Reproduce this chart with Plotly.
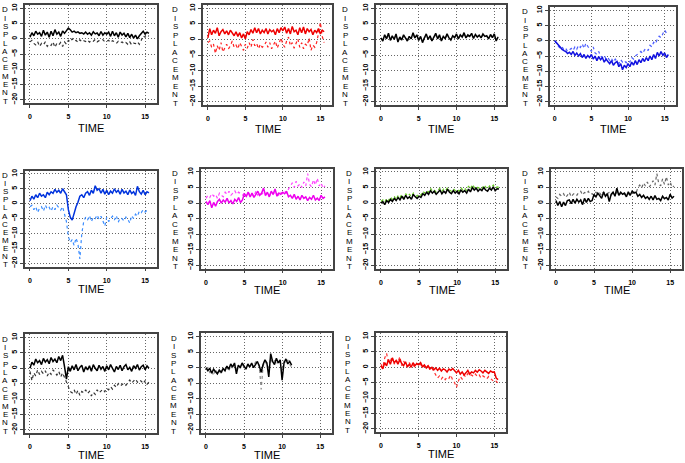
import plotly.graph_objects as go

TIME = [0.0, 0.25, 0.5, 0.75, 1.0, 1.25, 1.5, 1.75, 2.0, 2.25,
        2.5, 2.75, 3.0, 3.25, 3.5, 3.75, 4.0, 4.25, 4.5, 4.75,
        5.0, 5.25, 5.5, 5.75, 6.0, 6.25, 6.5, 6.75, 7.0, 7.25,
        7.5, 7.75, 8.0, 8.25, 8.5, 8.75, 9.0, 9.25, 9.5, 9.75,
        10.0, 10.25, 10.5, 10.75, 11.0, 11.25, 11.5, 11.75, 12.0, 12.25,
        12.5, 12.75, 13.0, 13.25, 13.5, 13.75, 14.0, 14.25, 14.5, 14.75,
        15.0, 15.25, 15.5]

X_TICKS = [0, 5, 10, 15]
Y_TICKS = [-20, -15, -10, -5, 0, 5, 10]

P1_SOLID = [0.5, 2.0, 1.0, 2.5, 1.5, 2.0, 0.8, 2.8, 1.2, 2.2,
            0.5, 2.5, 1.0, 3.0, 1.5, 2.2, 0.8, 2.6, 1.8, 2.8,
            3.5, 3.0, 2.2, 2.5, 2.0, 2.3, 1.8, 2.0, 1.6, 2.2,
            1.5, 2.0, 1.2, 2.3, 1.6, 1.9, 1.0, 2.4, 1.2, 2.0,
            1.5, 2.2, 0.8, 2.5, 1.0, 2.0, 0.5, 2.2, 1.2, 1.8,
            0.6, 1.8, 0.4, 1.5, 0.2, 1.2, 0.0, 1.0, 1.8, 2.5,
            1.5, 2.2, 1.8]
P1_DOTTED = [-1.0, -0.5, -1.5, -2.0, -1.0, -2.5, -1.5, -2.0, -1.0, -2.5,
             -1.8, -2.2, -1.0, -2.8, -1.5, -2.0, -1.2, -2.5, -1.0, -1.8,
             -0.5, -1.0, 0.0, -0.8, -0.5, -1.2, -0.3, -1.0, -0.6, -0.9,
             -0.4, -1.1, -0.5, -0.8, -0.2, -1.0, -0.6, -0.7, -0.3, -1.0,
             -0.8, -0.5, -1.2, -0.6, -1.0, -1.5, -0.8, -1.3, -1.0, -1.6,
             -1.2, -1.8, -1.0, -2.0, -1.4, -1.6, -1.0, -1.8, -0.5, 1.0,
             0.5, 1.2, 0.8]

P2_SOLID = [0.5, 3.5, 1.5, 3.0, 2.0, 3.8, 1.2, 2.5, 3.2, 1.8,
            2.8, 1.5, 3.0, 2.0, 1.2, 2.5, 1.0, 2.2, 0.5, 1.8,
            0.2, 2.5, 1.5, 3.2, 2.0, 3.8, 2.2, 3.5, 1.8, 3.0,
            2.2, 3.5, 1.8, 3.2, 2.5, 3.0, 1.5, 3.5, 2.2, 3.8,
            2.8, 4.0, 2.0, 3.5, 1.8, 4.2, 2.5, 3.0, 1.5, 3.8,
            2.2, 4.0, 1.8, 3.5, 2.5, 3.2, 1.5, 3.0, 2.2, 3.5,
            1.8, 3.0, 2.5]
P2_DOTTED = [-1.0, -0.5, -2.5, -1.5, -4.5, -2.0, -3.5, -1.0, -4.0, -2.5,
             -1.5, -3.0, -2.0, -0.5, -2.5, -1.8, -3.0, -1.0, -2.2, -3.5,
             -1.5, -2.8, -1.0, -2.5, 0.0, -2.0, -1.2, -3.0, -1.5, -2.5,
             -2.0, -0.8, -2.5, -1.0, -3.0, -1.5, -0.5, -2.8, -1.2, 0.5,
             -1.5, -2.5, -0.5, 0.8, -2.0, -1.0, -2.8, -1.5, 0.2, -2.5,
             -1.0, -3.0, -1.5, -2.0, 0.5, -3.5, -1.8, -2.5, -1.0, 2.0,
             5.5, 1.0, -1.0]

P3_SOLID = [0.5, -0.5, 1.5, 0.2, 2.0, -0.3, 1.2, 0.0, 1.8, -0.8,
            0.8, -0.2, 1.5, 0.3, -0.5, 1.0, 0.2, 2.2, 0.5, 1.5,
            -0.3, 1.0, -1.0, 0.5, 1.8, 0.0, 1.2, -0.5, 0.8, 2.0,
            0.2, 1.5, -0.5, 1.0, 0.3, 1.8, 0.5, -0.2, 1.2, 0.6,
            1.8, 0.2, 1.5, 0.8, 2.2, 0.5, 1.5, 1.0, 2.0, 0.3,
            1.6, 0.8, 1.4, 0.5, 1.8, 1.0, 1.2, 0.2, 1.6, 0.6,
            1.8, -0.5, 0.8]
P3_DOTTED = [0.2, 0.0, 1.0, 0.5, 1.5, 0.0, 0.8, 0.3, 1.2, -0.3,
             0.5, 0.2, 1.0, 0.6, 0.0, 0.8, 0.4, 1.5, 0.6, 1.0,
             0.0, 0.7, -0.5, 0.6, 1.2, 0.2, 0.9, -0.2, 0.6, 1.4,
             0.4, 1.0, 0.0, 0.8, 0.5, 1.2, 0.6, 0.1, 0.9, 0.7,
             1.2, 0.5, 1.1, 0.9, 1.5, 0.7, 1.1, 0.9, 1.4, 0.6,
             1.2, 0.9, 1.1, 0.7, 1.3, 1.0, 1.0, 0.5, 1.2, 0.8,
             1.3, 0.0, 0.9]

P4_SOLID = [0.0, -0.8, -1.5, -2.0, -2.8, -3.2, -3.5, -4.2, -3.8, -4.5,
            -3.5, -4.8, -4.0, -5.0, -4.2, -5.5, -4.5, -5.8, -4.8, -5.5,
            -4.5, -6.0, -5.0, -6.5, -5.2, -6.2, -5.5, -7.0, -6.0, -6.8,
            -7.5, -6.5, -8.0, -7.2, -6.8, -8.5, -7.5, -9.5, -8.0, -8.8,
            -7.5, -8.5, -7.0, -8.0, -6.5, -7.8, -6.2, -7.2, -5.8, -6.8,
            -5.5, -6.5, -5.0, -6.2, -4.5, -5.8, -3.8, -5.0, -3.5, -4.8,
            -4.0, -5.5, -4.5]
P4_DOTTED = [0.0, -1.0, -1.8, -2.5, -2.0, -3.0, -2.5, -3.5, -3.0, -2.5,
             -3.2, -2.0, -2.8, -1.5, -2.2, -1.0, -2.5, -0.8, -1.8, -2.5,
             -3.5, -2.0, -4.0, -4.5, -3.5, -5.0, -5.5, -4.8, -6.0, -5.5,
             -6.5, -5.8, -7.0, -6.0, -6.8, -7.5, -6.2, -7.0, -6.5, -7.2,
             -6.5, -7.0, -5.5, -6.0, -5.0, -4.5, -4.0, -3.5, -4.2, -3.0,
             -2.5, -3.2, -1.5, -2.0, -0.5, -1.0, 0.5, 1.5, 1.0, 2.5,
             3.5, 2.5, 3.0]

P5_SOLID = [1.0, 2.5, 1.5, 3.0, 2.0, 3.5, 2.5, 3.0, 2.0, 3.8,
            3.0, 4.0, 3.5, 4.8, 3.8, 4.5, 3.5, 5.0, 4.0, 3.0,
            -2.0, -4.5, -5.5, -3.0, -1.0, 0.5, 2.5, 3.0, 2.0, 3.5,
            4.0, 2.8, 4.5, 3.5, 6.0, 4.5, 5.0, 3.5, 4.8, 3.2,
            4.5, 3.0, 4.2, 3.5, 5.0, 3.8, 4.5, 3.2, 4.8, 3.6,
            4.2, 3.0, 4.6, 3.4, 4.0, 2.8, 5.8, 4.0, 3.2, 4.5,
            3.0, 4.0, 3.6]
P5_DOTTED = [-1.0, -0.5, -2.0, -1.0, -3.0, -1.5, -1.0, -2.5, -0.5, -1.8,
             -1.2, -2.5, -1.0, -2.0, -0.5, -1.5, -2.2, -1.0, -3.5, -6.0,
             -11.0, -13.0, -12.0, -14.0, -11.5, -13.5, -18.5, -10.0, -6.0, -4.5,
             -5.5, -4.0, -6.0, -4.5, -5.0, -3.8, -5.2, -4.2, -5.8, -7.5,
             -4.5, -6.0, -5.0, -4.2, -5.5, -4.0, -6.2, -4.8, -5.0, -5.8,
             -4.5, -5.2, -6.5, -4.0, -5.0, -3.5, -4.2, -2.5, -3.0, -2.0,
             -2.8, -2.2, -2.5]

P6_SOLID = [0.5, -0.5, 0.8, -1.5, 0.2, -1.0, 0.5, 1.2, 0.0, 1.0,
            0.3, 1.5, 0.0, 0.8, -0.3, 1.2, 0.5, 1.8, 0.2, 1.0,
            3.0, 2.2, 3.5, 2.0, 3.2, 1.8, 2.8, 3.8, 2.5, 3.2,
            4.8, 2.5, 3.5, 2.0, 3.8, 2.8, 4.5, 2.2, 3.2, 2.8,
            3.5, 3.0, 3.8, 2.0, 2.5, 1.5, 2.8, 1.2, 2.2, 1.0,
            2.5, 1.5, 2.0, 0.8, 1.8, 1.2, 2.5, 1.0, 1.6, 0.8,
            2.5, 1.5, 2.0]
P6_DOTTED = [1.5, 2.5, 1.8, 3.0, 2.2, 2.8, 1.5, 3.2, 2.5, 2.0,
             3.5, 2.8, 3.8, 2.5, 3.2, 4.0, 2.8, 3.5, 3.0, 2.5,
             3.2, 2.0, 3.5, 2.5, 3.0, 2.2, 3.8, 2.5, 3.2, 2.8,
             3.5, 2.5, 3.0, 2.2, 3.2, 2.8, 3.6, 3.0, 2.5, 3.4,
             3.0, 3.8, 3.2, 4.5, 5.5, 6.5, 5.0, 7.0, 5.5, 6.2,
             5.0, 6.8, 5.5, 9.5, 6.0, 5.2, 7.5, 5.8, 8.0, 5.5,
             6.5, 4.8, 5.5]

P7_SOLID = [0.0, 0.5, -0.5, 0.8, 0.2, 1.2, 0.5, 1.5, 0.8, 1.8,
            1.0, 2.2, 1.2, 2.5, 1.5, 2.0, 1.2, 2.8, 2.0, 1.5,
            2.2, 1.8, 3.0, 2.5, 3.5, 2.8, 4.0, 3.2, 3.8, 2.8,
            3.5, 4.2, 3.0, 3.8, 3.2, 4.5, 3.5, 3.0, 4.0, 3.2,
            3.8, 3.0, 4.2, 3.5, 4.0, 3.2, 4.5, 3.6, 5.0, 4.2,
            4.8, 3.8, 4.5, 4.0, 5.0, 4.2, 3.8, 4.8, 4.2, 5.2,
            4.0, 4.6, 4.5]
P7_DOTTED = [0.5, 1.0, 0.2, 1.5, 0.8, 2.0, 1.2, 2.2, 1.0, 2.5,
             1.8, 2.8, 1.5, 3.0, 2.2, 2.8, 2.0, 3.2, 2.5, 2.2,
             3.0, 2.5, 3.8, 3.2, 4.0, 3.5, 4.8, 3.8, 4.2, 3.5,
             4.2, 4.8, 3.8, 4.5, 4.0, 5.0, 4.2, 3.8, 4.6, 4.0,
             4.5, 3.8, 5.0, 4.2, 4.8, 4.0, 5.5, 4.5, 6.0, 5.0,
             5.5, 4.8, 5.2, 4.6, 5.8, 5.0, 4.5, 5.5, 5.0, 5.8,
             4.8, 5.2, 5.0]

P8_SOLID = [0.8, -0.8, 0.5, -1.2, 0.3, -0.8, 0.8, 1.0, -0.2, 1.2,
            0.0, 1.2, 0.3, 1.0, -0.5, 1.5, 0.2, 1.5, 0.5, 0.8,
            2.8, 2.0, 3.2, 2.5, 1.5, 3.5, 2.2, 3.0, 0.5, 2.8,
            3.5, 2.2, 4.8, 2.5, 3.5, 2.8, 3.2, 2.0, 3.6, 2.5,
            3.8, 3.2, 3.5, 2.2, 2.8, 1.8, 2.5, 1.5, 2.0, 1.2,
            2.2, 1.0, 2.4, 1.2, 1.5, 0.8, 2.2, 1.4, 1.8, 1.0,
            2.8, 1.6, 2.2]
P8_DOTTED = [2.0, 1.5, 2.8, 2.2, 3.0, 1.8, 2.5, 3.5, 2.0, 2.8,
             3.2, 2.5, 3.5, 3.8, 2.6, 3.4, 3.0, 3.8, 2.8, 3.0,
             2.5, 3.5, 2.8, 3.2, 2.4, 3.6, 2.8, 3.0, 3.4, 2.6,
             3.2, 2.8, 3.5, 2.5, 3.0, 3.6, 2.8, 3.2, 3.0, 2.6,
             3.4, 3.6, 3.0, 5.0, 5.8, 4.8, 6.5, 5.5, 6.8, 5.2,
             6.0, 7.2, 5.8, 9.5, 6.2, 5.5, 7.8, 6.0, 8.5, 5.8,
             6.8, 5.0, 5.5]

P9_SOLID = [0.0, 2.0, 1.0, 3.0, 1.8, 2.5, 1.2, 3.2, 2.0, 2.8,
            1.5, 3.5, 2.2, 3.0, 1.8, 3.8, 2.5, 4.2, 0.5, -3.5,
            0.5, -1.0, 0.8, -0.5, 1.2, -0.8, 0.3, 1.0, -1.2, 0.5,
            -0.5, 0.8, -1.0, 1.2, 0.0, -0.8, 1.0, -0.3, 0.6, -1.0,
            0.8, -0.5, 1.2, 0.0, -1.2, 0.6, -0.4, 1.0, -0.8, 0.5,
            1.2, -0.5, 0.3, -1.0, 0.8, 0.0, 1.2, -0.6, 0.5, 1.0,
            -0.5, 0.8, 0.0]
P9_DOTTED = [-1.0, -4.0, -1.5, -2.5, -0.5, -2.0, -1.0, -1.8, -0.8, -2.5,
             -1.2, -2.0, -0.5, -1.5, -2.2, -1.0, -2.8, -1.5, -3.0, -5.0,
             -6.5, -7.5, -8.0, -7.0, -8.5, -7.2, -8.8, -7.5, -8.0, -7.0,
             -8.2, -7.5, -9.0, -7.8, -8.5, -7.0, -8.0, -7.4, -6.8, -7.6,
             -6.5, -7.0, -6.0, -6.8, -5.5, -6.2, -5.0, -5.8, -5.2, -4.8,
             -5.5, -4.5, -3.8, -4.8, -4.0, -3.5, -4.5, -3.8, -4.2, -5.0,
             -4.0, -5.2, -4.5]

P10_SOLID = [0.0, -1.0, -0.2, -1.8, -0.5, -1.2, -2.0, -0.8, -1.5, -0.3,
             -1.0, 0.5, -0.5, 1.2, 0.2, 1.5, -2.0, 0.8, 0.0, 1.5,
             0.5, -0.5, 1.2, 0.2, 1.5, 0.0, 1.0, 2.0, 0.5, -1.5,
             1.0, 2.5, 1.5, -3.0, 4.5, 2.0, 1.0, 3.0, 1.5, 2.5,
             -4.0, 1.5, 2.8, 1.2, 2.0, 0.8]
P10_DOTTED = [-0.5, 0.0, -1.5, -0.8, -2.5, -0.5, -1.8, -1.0, -2.2, 0.0,
              -0.8, 0.2, -1.2, 0.8, -0.3, 1.0, -0.5, 0.5, -0.2, 1.0,
              0.2, 0.5, 0.8, 0.3, 1.0, 0.3, 1.8, 1.2, 0.8, -7.0,
              0.5, 2.0, 1.0, 0.0, 3.0, 1.5, 2.2, 1.0, 2.5, 1.8,
              -1.0, 2.0, 1.5, 2.5, 1.0, 0.2]

P11_SOLID = [0.5, -0.5, 1.5, 0.5, 2.5, 1.0, 3.0, 1.5, 2.2, 1.0,
             2.5, 1.2, 0.5, 1.8, 0.2, 1.0, 0.0, 1.5, 0.5, 1.2,
             0.8, 1.5, 0.2, 0.8, -0.2, 0.5, -0.5, 0.0, -0.8, -0.2,
             -1.0, -0.3, -1.2, -0.5, -0.8, -1.5, -0.6, -1.0, -0.4, -1.2,
             -1.8, -1.0, -2.2, -1.5, -2.5, -1.8, -1.0, -2.2, -1.5, -1.8,
             -1.0, -1.6, -0.8, -1.2, -1.8, -1.0, -1.5, -2.0, -1.2, -1.6,
             -1.5, -3.5, -4.0]
P11_DOTTED = [1.0, 0.0, 3.0, 4.5, 1.5, 2.0, 3.5, 1.0, 2.5, 1.5,
              3.5, 0.5, 2.0, 1.0, 0.0, 1.5, 0.5, 0.8, 0.0, 1.2,
              0.5, 1.0, -0.2, 0.5, -0.5, 0.8, -1.0, -0.3, -1.5, -2.5,
              -3.5, -2.8, -3.8, -3.0, -4.0, -3.2, -3.6, -2.5, -4.2, -5.0,
              -6.5, -4.5, -3.0, -3.8, -2.5, -3.2, -2.0, -2.8, -2.5, -3.0,
              -2.2, -3.0, -2.5, -3.5, -2.8, -3.2, -3.8, -3.0, -3.6, -4.2,
              -4.8, -4.5, -5.2]

PANELS = [
    (P1_SOLID, P1_DOTTED, "#000000", "#333333"),
    (P2_SOLID, P2_DOTTED, "#ee0000", "#ff2020"),
    (P3_SOLID, P3_DOTTED, "#000000", "#777777"),
    (P4_SOLID, P4_DOTTED, "#1010e0", "#4a5cff"),
    (P5_SOLID, P5_DOTTED, "#0033dd", "#3a8cff"),
    (P6_SOLID, P6_DOTTED, "#ee00ee", "#ff44ff"),
    (P7_SOLID, P7_DOTTED, "#000000", "#66cc22"),
    (P8_SOLID, P8_DOTTED, "#000000", "#666666"),
    (P9_SOLID, P9_DOTTED, "#000000", "#333333"),
    (P10_SOLID, P10_DOTTED, "#000000", "#888888"),
    (P11_SOLID, P11_DOTTED, "#ee0000", "#ff3030"),
]

# plot boxes in pixels: left, right, top, bottom
BOXES = [
    (25, 157, 3, 102), (203, 332, 3, 104), (376, 506, 3, 104), (550, 676, 5, 104),
    (25, 157, 170, 267), (201, 333, 168, 269), (376, 507, 168, 269), (551, 682, 168, 269),
    (25, 157, 335, 435), (201, 332, 334, 435), (376, 506, 334, 434),
]
LETTER_X = [5, 175, 345, 525, 5, 175, 349, 525, 5, 174, 348]
TIME_OFF = [25, 24, 24, 24, 23, 22, 22, 22, 22, 22, 22]

W, H = 685, 463
fig = go.Figure()
ann = []
layout = {}
for i, ((ys, yd, cs, cd), (l, r, t, b)) in enumerate(zip(PANELS, BOXES)):
    k = "" if i == 0 else str(i + 1)
    n = len(ys)
    fig.add_trace(go.Scatter(x=TIME[:len(yd)], y=yd, mode="lines",
                             line=dict(color=cd, width=1.2, dash="dot"),
                             xaxis="x" + k, yaxis="y" + k, showlegend=False))
    fig.add_trace(go.Scatter(x=TIME[:n], y=ys, mode="lines",
                             line=dict(color=cs, width=1.5),
                             xaxis="x" + k, yaxis="y" + k, showlegend=False))
    common = dict(showline=True, mirror=True, linecolor="#444444", linewidth=1.5,
                  showgrid=True, gridcolor="#666666", griddash="1px,2px", gridwidth=1,
                  zeroline=False, ticks="outside", ticklen=3, tickcolor="#444444",
                  tickfont=dict(size=7, family="Liberation Sans", color="black", weight="bold"))
    layout["xaxis" + k] = dict(domain=[l / W, r / W], anchor="y" + k,
                               range=[-0.65, 16.55], tickvals=X_TICKS,
                               ticklabelstandoff=3, **common)
    layout["yaxis" + k] = dict(domain=[1 - b / H, 1 - t / H], anchor="x" + k,
                               range=[-21.1, 11.1], tickvals=Y_TICKS, tickangle=-90,
                               ticklabelstandoff=0, **common)
    word = "DISPLACEMENT"
    top_c, bot_c = t + 5, b - 2
    step = (bot_c - top_c) / (len(word) - 1)
    for j, ch in enumerate(word):
        ann.append(dict(x=LETTER_X[i] / W, y=1 - (top_c + j * step) / H, xref="paper",
                        yref="paper", text=ch, showarrow=False, borderpad=0,
                        font=dict(size=8, family="Liberation Sans", color="black"),
                        xanchor="center", yanchor="middle"))
    ann.append(dict(x=(l + r) / 2 / W, y=1 - (b + TIME_OFF[i]) / H, xref="paper",
                    yref="paper", text="TIME", showarrow=False,
                    font=dict(size=11, family="Liberation Sans", color="black"),
                    xanchor="center", yanchor="middle"))

fig.update_layout(width=W, height=H, margin=dict(l=0, r=0, t=0, b=0),
                  paper_bgcolor="white", plot_bgcolor="white",
                  annotations=ann, **layout)
fig.write_html("out.html", config={"displayModeBar": False},
               post_script="document.body.style.margin='0px';")
